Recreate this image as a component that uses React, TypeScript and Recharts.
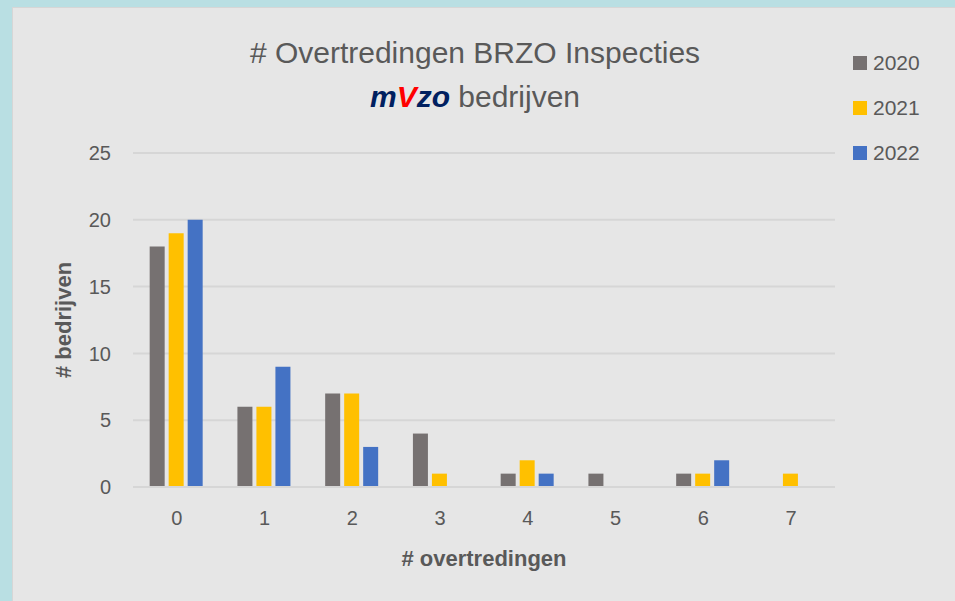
import React from "react";
import { BarChart, Bar, XAxis, YAxis, CartesianGrid, Label } from "recharts";

const categories = ["0", "1", "2", "3", "4", "5", "6", "7"];
const values2020 = [18, 6, 7, 4, 1, 1, 1, 0];
const values2021 = [19, 6, 7, 1, 2, 0, 1, 1];
const values2022 = [20, 9, 3, 0, 1, 0, 2, 0];
const yTicks = [0, 5, 10, 15, 20, 25];
const seriesNames = ["2020", "2021", "2022"];
const seriesColors = ["#767171", "#FFC000", "#4472C4"];

const data = categories.map((c, i) => ({
  cat: c,
  "2020": values2020[i],
  "2021": values2021[i],
  "2022": values2022[i],
}));

const FONT = "'Liberation Sans', Arial, sans-serif";
const TEXT = "#595959";

const LegendBox = () => (
  <div style={{ position: "absolute", left: 853, top: 40, fontFamily: FONT }}>
    {seriesNames.map((n, i) => (
      <div key={n} style={{ display: "flex", alignItems: "center", height: 45 }}>
        <span style={{ width: 14, height: 14, background: seriesColors[i], display: "inline-block", marginRight: 6 }} />
        <span style={{ fontSize: 21, color: TEXT }}>{n}</span>
      </div>
    ))}
  </div>
);

export default function App() {
  return (
    <div style={{ position: "absolute", left: 0, top: 0, width: 955, height: 601, background: "#b9dfe3", overflow: "hidden" }}>
      <div style={{ position: "absolute", left: 12, top: 7, width: 943, height: 594, background: "#e6e6e6", borderLeft: "1px solid #d6d6d6", borderTop: "1px solid #d6d6d6", boxSizing: "border-box" }} />
      <div style={{ position: "absolute", left: 0, top: 0 }}>
        <BarChart
          width={955}
          height={601}
          data={data}
          margin={{ top: 153, right: 120, bottom: 84, left: 73 }}
          barGap={4}
          barCategoryGap="19%"
        >
          <CartesianGrid horizontal vertical={false} stroke="#d6d6d6" strokeWidth={2} />
          <XAxis
            dataKey="cat"
            height={30}
            axisLine={{ stroke: "#d6d6d6", strokeWidth: 2 }}
            tickLine={false}
            tickSize={6}
            tickMargin={18}
            tick={{ fill: TEXT, fontSize: 20, fontFamily: FONT }}
          >
            <Label
              value="# overtredingen"
              position="bottom"
              offset={33}
              style={{ fill: TEXT, fontSize: 22, fontWeight: "bold", fontFamily: FONT }}
            />
          </XAxis>
          <YAxis
            width={60}
            domain={[0, 25]}
            ticks={yTicks}
            axisLine={false}
            tickLine={false}
            tickSize={6}
            tickMargin={16}
            tick={{ fill: TEXT, fontSize: 20, fontFamily: FONT }}
          >
            <Label
              value="# bedrijven"
              angle={-90}
              position="insideLeft"
              offset={-10}
              style={{ fill: TEXT, fontSize: 22, fontWeight: "bold", fontFamily: FONT, textAnchor: "middle" }}
            />
          </YAxis>
          {seriesNames.map((n, i) => (
            <Bar key={n} dataKey={n} fill={seriesColors[i]} isAnimationActive={false} />
          ))}
        </BarChart>
      </div>
      <LegendBox />
      <div style={{ position: "absolute", left: 0, width: 950, top: 31, textAlign: "center", fontFamily: FONT, color: TEXT, fontSize: 30, lineHeight: "44px" }}>
        <div># Overtredingen BRZO Inspecties</div>
        <div>
          <span style={{ fontWeight: "bold", fontStyle: "italic", color: "#002060" }}>m</span>
          <span style={{ fontWeight: "bold", fontStyle: "italic", color: "#FF0000" }}>V</span>
          <span style={{ fontWeight: "bold", fontStyle: "italic", color: "#002060" }}>zo</span>
          <span> bedrijven</span>
        </div>
      </div>
    </div>
  );
}
